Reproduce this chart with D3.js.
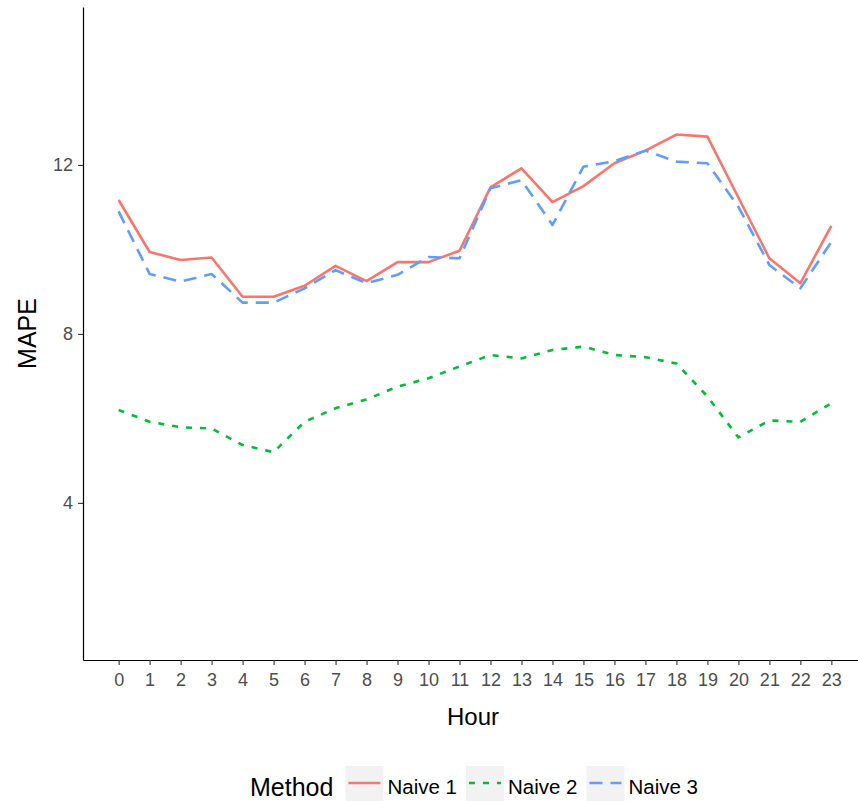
<!DOCTYPE html>
<html>
<head>
<meta charset="utf-8">
<script src="https://cdn.jsdelivr.net/npm/d3@7"></script>
<style>
  html, body { margin: 0; padding: 0; background: #fff; }
  svg { display: block; }
  text { font-family: "Liberation Sans", Arial, sans-serif; }
</style>
</head>
<body>
<svg id="chart" width="858" height="801"></svg>
<script>
// Hour of day 0..23
const hours = d3.range(0, 24);

// MAPE by hour for each naive method
const naive1 = [11.17, 9.94, 9.75, 9.81, 8.88, 8.88, 9.14, 9.61, 9.25, 9.70, 9.70, 9.97,
                11.47, 11.92, 11.12, 11.50, 12.04, 12.34, 12.72, 12.67, 11.23, 9.79, 9.20, 10.56];
const naive2 = [6.20, 5.92, 5.79, 5.76, 5.37, 5.20, 5.92, 6.24, 6.45, 6.75, 6.95, 7.23,
                7.50, 7.42, 7.62, 7.70, 7.50, 7.45, 7.30, 6.52, 5.55, 5.95, 5.92, 6.36];
const naive3 = [10.90, 9.42, 9.24, 9.42, 8.74, 8.74, 9.08, 9.51, 9.20, 9.40, 9.82, 9.79,
                11.45, 11.64, 10.58, 11.96, 12.09, 12.34, 12.08, 12.04, 11.01, 9.63, 9.08, 10.18];

const methodNames = ["Naive 1", "Naive 2", "Naive 3"];
const methodColors = ["#F8766D", "#00BA38", "#619CFF"];
const methodDashes = [null, "6,8", "13,8"];
const yTicks = [4, 8, 12];

const series = [naive1, naive2, naive3].map((vals, i) => ({
  name: methodNames[i], color: methodColors[i], dash: methodDashes[i],
  values: vals.map((v, j) => ({ hour: hours[j], mape: v }))
}));

const svg = d3.select("#chart");
const panel = { left: 83, right: 867, top: 7, bottom: 660 };

const x = d3.scaleLinear().domain([-1.15, 24.15]).range([panel.left, panel.right]);
const y = d3.scaleLinear().domain([0.28, 15.74]).range([panel.bottom, panel.top]);

// Series lines
const line = d3.line().x(d => x(d.hour)).y(d => y(d.mape));
svg.append("g").selectAll("path").data(series).join("path")
  .attr("d", d => line(d.values))
  .attr("fill", "none")
  .attr("stroke", d => d.color)
  .attr("stroke-width", 2.6)
  .attr("stroke-dasharray", d => d.dash)
  .attr("stroke-linejoin", "round");

// Axes
const xAxis = svg.append("g")
  .attr("transform", `translate(0,${panel.bottom})`)
  .call(d3.axisBottom(x).tickValues(hours).tickFormat(d3.format("d")).tickSize(5).tickSizeOuter(0).tickPadding(8));
const yAxis = svg.append("g")
  .attr("transform", `translate(${panel.left},0)`)
  .call(d3.axisLeft(y).tickValues(yTicks).tickSize(5).tickSizeOuter(0).tickPadding(5));

[xAxis, yAxis].forEach(g => {
  g.select(".domain").attr("stroke", "#000").attr("stroke-width", 1.2);
  g.selectAll(".tick line").attr("stroke", "#333").attr("stroke-width", 1.1);
  g.selectAll(".tick text").attr("fill", "#4d4d4d")
    .style("font-size", "18px").style("font-family", "'Liberation Sans', Arial, sans-serif");
});

// Axis titles
svg.append("text")
  .attr("x", (panel.left + panel.right) / 2 - 2).attr("y", 725)
  .attr("text-anchor", "middle").attr("fill", "#000")
  .style("font-size", "24px").text("Hour");
svg.append("text")
  .attr("transform", `translate(36,${(panel.top + panel.bottom) / 2}) rotate(-90)`)
  .attr("text-anchor", "middle").attr("fill", "#000")
  .style("font-size", "25px").text("MAPE");

// Legend along the bottom, centred on the panel
const legend = svg.append("g");
const keyW = 38, keyH = 38, keyTop = 766, baseY = 794;
let cx = 0;
const title = legend.append("text").attr("x", cx).attr("y", baseY + 2)
  .attr("fill", "#000").style("font-size", "25px").text("Method");
cx += title.node().getComputedTextLength() + 12;
series.forEach((s, i) => {
  legend.append("rect").attr("x", cx).attr("y", keyTop).attr("width", keyW).attr("height", keyH)
    .attr("fill", "#f2f2f2");
  legend.append("line")
    .attr("x1", cx + 3).attr("x2", cx + keyW - 3)
    .attr("y1", keyTop + 17).attr("y2", keyTop + 17)
    .attr("stroke", s.color).attr("stroke-width", 2.6)
    .attr("stroke-dasharray", s.dash);
  cx += keyW + 4;
  const t = legend.append("text").attr("x", cx).attr("y", baseY)
    .attr("fill", "#000").style("font-size", "20.5px").text(s.name);
  cx += t.node().getComputedTextLength() + (i < series.length - 1 ? 9 : 0);
});
const center = (panel.left + panel.right) / 2 - 1;
legend.attr("transform", `translate(${center - cx / 2},0)`);
</script>
</body>
</html>
